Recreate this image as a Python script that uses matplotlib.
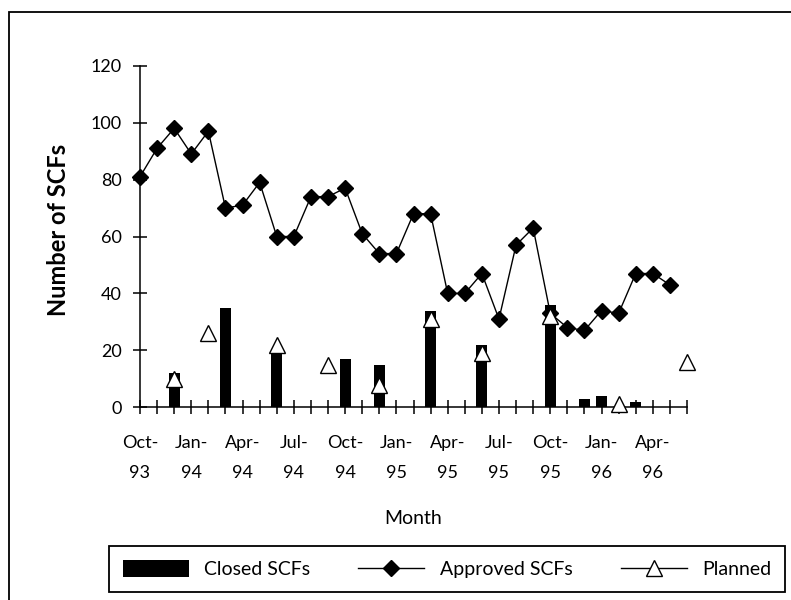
import matplotlib
matplotlib.use("Agg")
import matplotlib.pyplot as plt
import numpy as np
from matplotlib.patches import Rectangle

plt.rcParams['font.family'] = ['Lato', 'DejaVu Sans']

nan = np.nan

# monthly series, Oct-93 .. Jun-96
approved = [81, 91, 98, 89, 97, 70, 71, 79, 60, 60, 74, 74, 77, 61, 54, 54,
            68, 68, 40, 40, 47, 31, 57, 63, 33, 28, 27, 34, 33, 47, 47, 43, nan]
closed = [nan, nan, 12, nan, nan, 35, nan, nan, 20, nan, nan, nan, 17, nan, 15, nan,
          nan, 34, nan, nan, 22, nan, nan, nan, 36, nan, 3, 4, nan, 2, nan, nan, nan]
planned = [nan, nan, 10, nan, 26, nan, nan, nan, 22, nan, nan, 15, nan, nan, 8, nan,
           nan, 31, nan, nan, 19, nan, nan, nan, 32, nan, nan, nan, 1, nan, nan, nan, 16]

# labels on every third month
tick_labels = ['Oct-\n93', '', '', 'Jan-\n94', '', '', 'Apr-\n94', '', '', 'Jul-\n94', '', '',
               'Oct-\n94', '', '', 'Jan-\n95', '', '', 'Apr-\n95', '', '', 'Jul-\n95', '', '',
               'Oct-\n95', '', '', 'Jan-\n96', '', '', 'Apr-\n96', '', '']

W, H = 791, 600
fig = plt.figure(figsize=(W / 100, H / 100), dpi=100)
ax = fig.add_axes([140 / W, 1 - 407.3 / H, (687 - 140) / W, (407.3 - 65.7) / H])

x = np.arange(len(approved))
line_a, = ax.plot(x, approved, color='black', lw=1.0, marker='D', ms=8,
                  mfc='black', mec='black', zorder=2, clip_on=False)
bars = ax.bar(x, closed, width=0.65, color='black', zorder=3)
line_p, = ax.plot(x, planned, color='black', lw=1.0, marker='^', ms=11,
                  mfc='white', mec='black', mew=1.0, zorder=4, clip_on=False)

ax.set_xlim(0, 32)
ax.set_ylim(0, 120)
for s in ['top', 'right']:
    ax.spines[s].set_visible(False)
for s in ['left', 'bottom']:
    ax.spines[s].set_linewidth(1.1)

ax.set_xticks(x)
ax.set_xticklabels(tick_labels, fontsize=13, linespacing=2.05)
ax.set_yticks(range(0, 121, 20))
ax.tick_params(axis='both', direction='inout', length=10, width=1.1, labelsize=13)
ax.tick_params(axis='x', pad=15)
ax.tick_params(axis='y', pad=8)

fig.text(59 / W, 1 - 230 / H, 'Number of SCFs', rotation=90, ha='center', va='center',
         fontsize=17, fontweight='bold')
fig.text(413 / W, 1 - 518 / H, 'Month', ha='center', va='center', fontsize=14)

leg = fig.legend([bars, line_a, line_p], ['Closed SCFs', 'Approved SCFs', 'Planned'],
                 loc='center', bbox_to_anchor=(109 / W, 1 - 593 / H, 676 / W, 48 / H),
                 mode='expand', ncol=3, fancybox=False, edgecolor='black',
                 handlelength=3.4, handleheight=0.95, borderaxespad=0, borderpad=0.7,
                 fontsize=14, framealpha=1)
leg.get_frame().set_linewidth(1.3)

# outer chart border
fig.add_artist(Rectangle((8.5 / W, -0.1), 1.2, 1.1 - 12 / H, transform=fig.transFigure,
                         fill=False, ec='black', lw=1.3))

fig.savefig('out.png', dpi=100)
